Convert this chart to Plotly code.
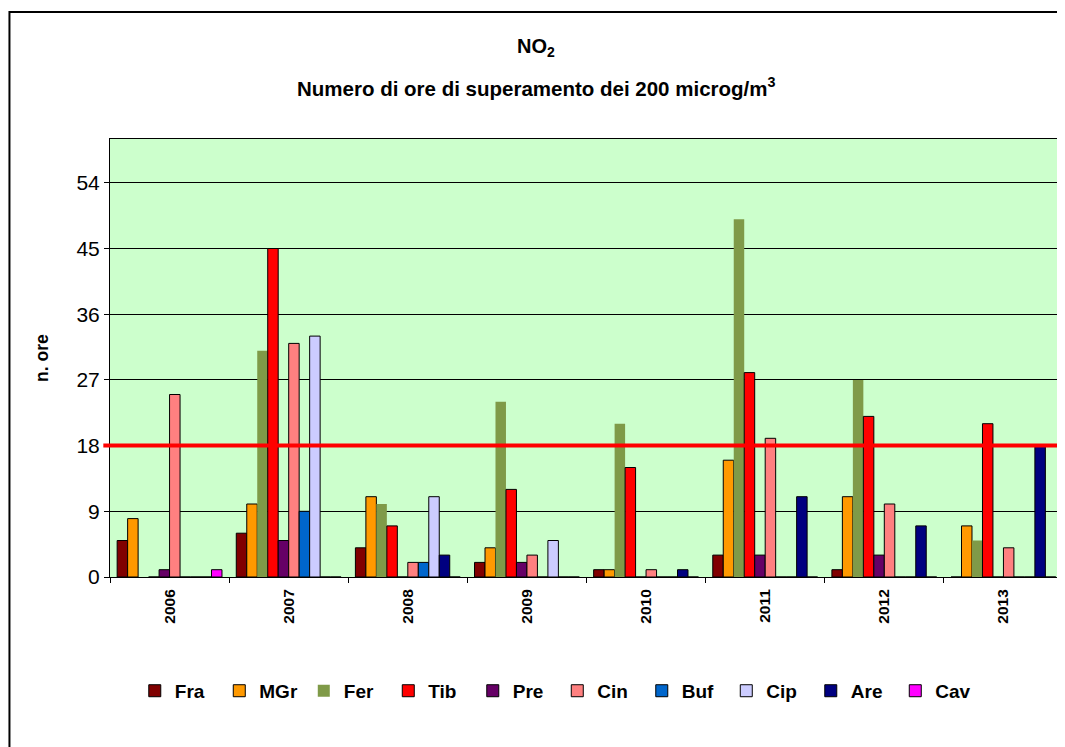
import plotly.graph_objects as go

years = ["2006", "2007", "2008", "2009", "2010", "2011", "2012", "2013"]

Fra = [5, 6, 4, 2, 1, 3, 1, 0]
MGr = [8, 10, 11, 4, 1, 16, 11, 7]
Fer = [0, 31, 10, 24, 21, 49, 27, 5]
Tib = [0, 45, 7, 12, 15, 28, 22, 21]
Pre = [1, 5, 0, 2, 0, 3, 3, 0]
Cin = [25, 32, 2, 3, 1, 19, 10, 4]
Buf = [0, 9, 2, 0, 0, 0, 0, 0]
Cip = [0, 33, 11, 5, 0, 0, 0, 0]
Are = [0, 0, 3, 0, 1, 11, 7, 18]
Cav = [1, 0, 0, 0, 0, 0, 0, 0]

threshold = 18
y_ticks = [0, 9, 18, 27, 36, 45, 54]

series = [
    ("Fra", Fra, "#800000"),
    ("MGr", MGr, "#FF9900"),
    ("Fer", Fer, "#7F9A48"),
    ("Tib", Tib, "#FF0000"),
    ("Pre", Pre, "#660066"),
    ("Cin", Cin, "#FF8080"),
    ("Buf", Buf, "#0066CC"),
    ("Cip", Cip, "#CCCCFF"),
    ("Are", Are, "#000080"),
    ("Cav", Cav, "#FF00FF"),
]

fig = go.Figure()
for name, vals, col in series:
    lw = 0 if name == "Fer" else 1
    fig.add_trace(go.Bar(
        x=years, y=vals, name=name,
        marker=dict(color=col, line=dict(color="black", width=lw)),
    ))

FONT = "Liberation Sans, Arial, sans-serif"

fig.update_layout(
    width=1057, height=739,
    margin=dict(l=102, r=2, t=131, b=170),
    paper_bgcolor="white",
    plot_bgcolor="#CCFFCC",
    barmode="group",
    bargap=0.12,
    bargroupgap=0,
    showlegend=True,
    font=dict(family=FONT, color="black"),
    legend=dict(
        orientation="h",
        x=0.026, xanchor="left",
        y=-0.26, yanchor="middle",
        font=dict(size=19, family=FONT, weight="bold"),
        entrywidth=39.5, entrywidthmode="pixels",
        bgcolor="rgba(0,0,0,0)",
        traceorder="normal",
    ),
    xaxis=dict(
        type="category",
        showline=True, linecolor="black", linewidth=1, mirror=True,
        ticks="outside", ticklen=5, tickcolor="black",
        tickson="boundaries",
        tickangle=-90,
        ticklabelstandoff=5,
        tickfont=dict(size=15.5, family=FONT, weight="bold"),
        showgrid=False,
    ),
    yaxis=dict(
        range=[0, 60],
        tickvals=y_ticks,
        showline=True, linecolor="black", linewidth=1, mirror=True,
        ticks="outside", ticklen=5, tickcolor="black",
        tickfont=dict(size=21, family=FONT),
        showgrid=True, gridcolor="black", gridwidth=1,
        zeroline=False,
    ),
    annotations=[
        dict(text="<b>NO<sub>2</sub></b>", xref="paper", yref="paper",
             x=0.447, y=1.21, xanchor="center", yanchor="middle",
             showarrow=False, font=dict(size=20, family=FONT)),
        dict(text="<b>Numero di ore di superamento dei 200 microg/m<sup>3</sup></b>",
             xref="paper", yref="paper",
             x=0.447, y=1.119, xanchor="center", yanchor="middle",
             showarrow=False, font=dict(size=20.5, family=FONT)),
        dict(text="<b>n. ore</b>", xref="paper", yref="paper",
             x=-0.0714, y=0.5, xanchor="center", yanchor="middle",
             textangle=-90, showarrow=False, font=dict(size=17.5, family=FONT)),
    ],
    shapes=[
        dict(type="line", xref="paper", yref="y",
             x0=-0.007, x1=1, y0=threshold, y1=threshold,
             line=dict(color="#FF0000", width=4), layer="above"),
        dict(type="rect", xref="paper", yref="paper",
             x0=-0.1055, x1=1.02, y0=-0.45, y1=1.29,
             line=dict(color="black", width=2), fillcolor="rgba(0,0,0,0)",
             layer="below"),
    ],
)

fig.write_html("out.html")
